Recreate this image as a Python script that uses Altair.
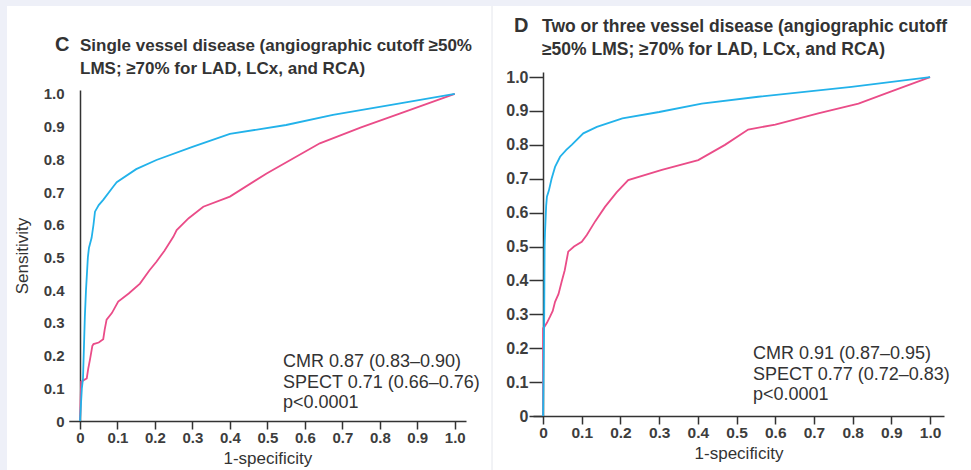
import altair as alt
import pandas as pd

# ---- Panel C: single vessel disease, ROC points (1-specificity, sensitivity) ----
c_cmr_fpr = [0, 0.005, 0.008, 0.013, 0.016, 0.018, 0.021, 0.024, 0.031, 0.036,
             0.040, 0.050, 0.062, 0.089, 0.098, 0.150, 0.204, 0.300, 0.400, 0.550,
             0.675, 0.850, 1.0]
c_cmr_sens = [0, 0.10, 0.13, 0.32, 0.40, 0.44, 0.50, 0.53, 0.56, 0.60,
              0.64, 0.66, 0.676, 0.717, 0.730, 0.770, 0.798, 0.838, 0.878, 0.905,
              0.936, 0.970, 1.0]

c_spect_fpr = [0, 0.003, 0.010, 0.018, 0.022, 0.027, 0.033, 0.036, 0.050, 0.062,
               0.066, 0.071, 0.085, 0.102, 0.130, 0.160, 0.185, 0.204, 0.225, 0.249,
               0.258, 0.290, 0.329, 0.400, 0.498, 0.640, 0.750, 0.853, 1.0]
c_spect_sens = [0, 0.120, 0.125, 0.130, 0.160, 0.190, 0.230, 0.235, 0.240, 0.250,
                0.280, 0.310, 0.330, 0.365, 0.390, 0.420, 0.460, 0.487, 0.520, 0.563,
                0.584, 0.620, 0.655, 0.686, 0.757, 0.849, 0.898, 0.940, 1.0]

# ---- Panel D: two or three vessel disease ----
d_cmr_fpr = [0, 0.003, 0.004, 0.005, 0.008, 0.010, 0.015, 0.022, 0.031, 0.044,
             0.060, 0.074, 0.104, 0.139, 0.205, 0.300, 0.410, 0.556, 0.797, 1.0]
d_cmr_sens = [0, 0.30, 0.50, 0.54, 0.62, 0.647, 0.665, 0.70, 0.735, 0.765,
              0.785, 0.80, 0.834, 0.853, 0.878, 0.897, 0.922, 0.942, 0.971, 1.0]

d_spect_fpr = [0, 0, 0.003, 0.010, 0.018, 0.025, 0.031, 0.040, 0.048, 0.056,
               0.065, 0.080, 0.100, 0.113, 0.135, 0.160, 0.190, 0.220, 0.307, 0.401,
               0.470, 0.530, 0.600, 0.711, 0.815, 0.900, 1.0]
d_spect_sens = [0, 0.259, 0.262, 0.275, 0.293, 0.310, 0.337, 0.360, 0.396, 0.430,
                0.485, 0.500, 0.514, 0.534, 0.575, 0.617, 0.660, 0.696, 0.726, 0.755,
                0.800, 0.845, 0.860, 0.893, 0.922, 0.958, 1.0]

tick_values = [0, 0.1, 0.2, 0.3, 0.4, 0.5, 0.6, 0.7, 0.8, 0.9, 1.0]
methods = ["SPECT", "CMR"]

c_title = ["Single vessel disease (angiographic cutoff \u226550%",
           "LMS; \u226570% for LAD, LCx, and RCA)"]
d_title = ["Two or three vessel disease (angiographic cutoff",
           "\u226550% LMS; \u226570% for LAD, LCx, and RCA)"]
c_note = ["CMR 0.87 (0.83\u20130.90)", "SPECT 0.71 (0.66\u20130.76)", "p<0.0001"]
d_note = ["CMR 0.91 (0.87\u20130.95)", "SPECT 0.77 (0.72\u20130.83)", "p<0.0001"]

W, H = 971, 470
BLUE = "#22b2ea"
PINK = "#ea4c88"
INK = "#333333"
STRIP = "#eef0f8"
FONT = "Liberation Sans"
LABEL_EXPR = "datum.value == 0 ? '0' : format(datum.value, '.1f')"

one_row = pd.DataFrame({"k": [0]})


def roc_frame(fpr, sens, method):
    return pd.DataFrame({"fpr": fpr, "sens": sens, "method": method,
                         "step": list(range(len(fpr)))})


def axis(orient, offset, tick_size, label_pad, title, title_pad, label_size=15):
    kw = dict(
        orient=orient, offset=offset, values=tick_values, labelExpr=LABEL_EXPR,
        grid=False, domainColor=INK, domainWidth=1.5,
        labelFont=FONT, labelFontSize=label_size, labelFontWeight="bold",
        labelColor="#3d3d3d",
        labelPadding=label_pad, labelFlush=False, labelOverlap=False,
        titleFont=FONT, titleFontSize=17, titleFontWeight="normal",
        titleColor=INK, titlePadding=title_pad,
    )
    if tick_size > 0:
        kw.update(ticks=True, tickSize=tick_size, tickColor=INK, tickWidth=1.5)
    else:
        kw.update(ticks=False)
    return alt.Axis(title=title, **kw)


def roc_panel(frames, xscale, yscale, xaxis, yaxis):
    return alt.Chart(pd.concat(frames, ignore_index=True)).mark_line(
        strokeWidth=1.8
    ).encode(
        x=alt.X("fpr:Q", scale=xscale, axis=xaxis),
        y=alt.Y("sens:Q", scale=yscale, axis=yaxis),
        color=alt.Color("method:N", scale=alt.Scale(domain=methods, range=[PINK, BLUE]),
                        legend=None),
        detail="method:N",
        order="step:Q",
    )


panel_c = roc_panel(
    [roc_frame(c_spect_fpr, c_spect_sens, "SPECT"), roc_frame(c_cmr_fpr, c_cmr_sens, "CMR")],
    alt.Scale(domain=[-0.03, 1.03], range=[68.75, 466], nice=False, zero=False),
    alt.Scale(domain=[0, 1.012], range=[421, 90], nice=False, zero=False),
    axis("bottom", 421 - H, 8, 1, "1-specificity", 5),
    axis("left", -80, 0, 16, "Sensitivity", 12),
)

panel_d = roc_panel(
    [roc_frame(d_spect_fpr, d_spect_sens, "SPECT"), roc_frame(d_cmr_fpr, d_cmr_sens, "CMR")],
    alt.Scale(domain=[-0.026, 1.036], range=[533, 944], nice=False, zero=False),
    alt.Scale(domain=[0, 1.015], range=[416, 72], nice=False, zero=False),
    axis("bottom", 416 - H, 8, 1, "1-specificity", 5, label_size=15.5),
    axis("left", -543, 14, 1, None, 0, label_size=16),
)

# page frame: light strips along the top and left edge, thin divider between panels
top_strip = alt.Chart(one_row).mark_rect(color=STRIP).encode(
    x=alt.value(0), x2=alt.value(W), y=alt.value(0), y2=alt.value(6))
left_strip = alt.Chart(one_row).mark_rect(color=STRIP).encode(
    x=alt.value(0), x2=alt.value(7), y=alt.value(0), y2=alt.value(H))
divider = alt.Chart(one_row).mark_rule(color="#e4e6ec", strokeWidth=1).encode(
    x=alt.value(492), y=alt.value(6), y2=alt.value(H))


def text_block(lines, x, y, size, weight="normal", line_height=23):
    return alt.Chart(one_row).mark_text(
        text=lines, align="left", baseline="alphabetic", font=FONT,
        fontSize=size, fontWeight=weight, color=INK, lineHeight=line_height,
    ).encode(x=alt.value(x), y=alt.value(y))


texts = [
    text_block("C", 55, 51, 20, "bold"),
    text_block(c_title, 80, 51, 17, "bold"),
    text_block("D", 514, 32, 20, "bold"),
    text_block(d_title, 542, 32, 17.5, "bold"),
    text_block(c_note, 283, 367, 18, line_height=20.5),
    text_block(d_note, 753, 359, 18, line_height=20.5),
]

chart = alt.layer(top_strip, left_strip, divider, panel_c, panel_d, *texts).resolve_scale(
    x="independent", y="independent"
).properties(
    width=W, height=H, padding=0,
    autosize=alt.AutoSizeParams(type="none"),
    background="white",
).configure_view(stroke=None)

chart.save("out.html", embed_options={"renderer": "svg", "actions": False})
